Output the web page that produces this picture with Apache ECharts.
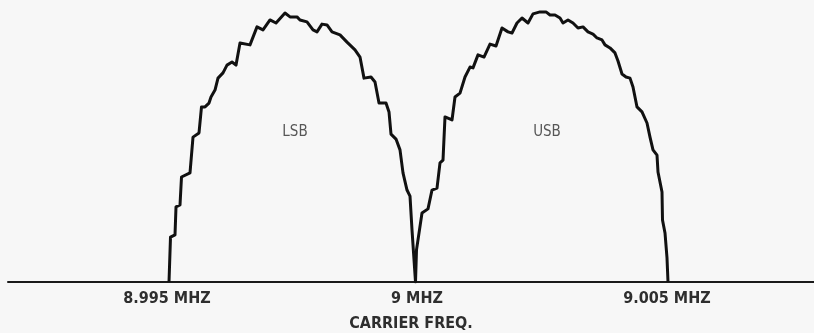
<!DOCTYPE html>
<html>
<head>
<meta charset="utf-8">
<script src="https://cdn.jsdelivr.net/npm/echarts@6/dist/echarts.min.js"></script>
<style>
  html, body { margin: 0; padding: 0; background: #f7f7f7; }
  #chart { width: 814px; height: 333px; }
</style>
</head>
<body>
<div id="chart"></div>
<script>
// Frequency offset from the 9 MHz carrier, in kHz
const lsbFreq = [-4.96, -4.93, -4.84, -4.82, -4.74, -4.71, -4.54, -4.48, -4.36, -4.31, -4.24, -4.16, -4.12, -4.04, -3.98, -3.88, -3.80, -3.70, -3.62, -3.54, -3.50, -3.34, -3.20, -3.08, -2.94, -2.82, -2.64, -2.54, -2.40, -2.34, -2.20, -2.08, -2.00, -1.90, -1.80, -1.70, -1.54, -1.40, -1.24, -1.14, -1.06, -0.92, -0.84, -0.76, -0.62, -0.56, -0.52, -0.42, -0.34, -0.28, -0.20, -0.14, -0.10, -0.03];
// Relative amplitude of the lower sideband
const lsbLevel = [0, 16.2, 17.0, 27.1, 27.8, 37.9, 39.4, 52.3, 53.8, 63.2, 63.2, 64.6, 66.8, 69.3, 73.6, 75.5, 78.3, 79.4, 78.3, 86.3, 86.6, 85.6, 92.1, 91.0, 94.6, 93.5, 97.1, 95.7, 95.7, 94.6, 93.9, 91.0, 90.3, 93.1, 92.8, 90.3, 89.2, 86.6, 83.8, 81.2, 73.6, 74.0, 72.2, 64.6, 64.6, 61.4, 53.4, 51.6, 47.7, 39.4, 33.2, 31.0, 18.8, 0];

const usbFreq = [-0.01, 0.10, 0.22, 0.30, 0.40, 0.46, 0.52, 0.56, 0.70, 0.76, 0.86, 0.96, 1.06, 1.12, 1.22, 1.34, 1.46, 1.58, 1.70, 1.82, 1.90, 2.00, 2.10, 2.22, 2.32, 2.46, 2.58, 2.66, 2.76, 2.86, 2.92, 3.02, 3.12, 3.22, 3.32, 3.42, 3.52, 3.60, 3.70, 3.76, 3.86, 3.96, 4.02, 4.10, 4.18, 4.26, 4.32, 4.40, 4.50, 4.60, 4.66, 4.72, 4.80, 4.82, 4.90, 4.91, 4.96, 5.00, 5.02];
// Relative amplitude of the upper sideband
const usbLevel = [11.6, 24.9, 26.4, 33.2, 33.9, 43.0, 44.0, 59.6, 58.5, 66.8, 68.2, 74.0, 77.6, 77.3, 82.0, 81.2, 85.9, 85.2, 91.7, 90.3, 89.9, 93.5, 95.3, 93.5, 96.8, 97.5, 97.5, 96.4, 96.4, 95.3, 93.5, 94.6, 93.5, 91.7, 92.1, 90.3, 89.5, 88.1, 87.4, 85.6, 84.5, 82.7, 79.8, 75.1, 74.0, 73.6, 70.4, 63.2, 61.4, 57.4, 52.3, 47.7, 45.8, 39.7, 32.5, 22.4, 17.7, 8.7, 0];

// Axis tick positions and their captions
const tickValues = [-5, 0, 5];
const tickLabels = ['8.995 MHZ', '9 MHZ', '9.005 MHZ'];
const axisTitle = 'CARRIER FREQ.';

// Sideband captions placed inside each lobe
const bandNames = ['LSB', 'USB'];
const bandFreq = [-2.44, 2.6];
const bandLevel = [54, 54];

const spectrum = lsbFreq.map((f, i) => [f, lsbLevel[i]])
  .concat(usbFreq.map((f, i) => [f, usbLevel[i]]));

const textFont = '"DejaVu Sans Condensed", "DejaVu Sans", sans-serif';
const chart = echarts.init(document.getElementById('chart'), null, { renderer: 'canvas' });

chart.setOption({
  backgroundColor: '#f7f7f7',
  animation: false,
  grid: { left: 8, right: 0, top: 5, bottom: 51, containLabel: false, outerBoundsMode: 'none' },
  xAxis: {
    type: 'value',
    min: -8.18,
    max: 7.94,
    name: axisTitle,
    nameLocation: 'middle',
    nameGap: 34,
    nameTextStyle: { color: '#2e2e2e', fontSize: 16, fontWeight: 'bold', fontFamily: textFont },
    axisLine: { show: true, onZero: false, lineStyle: { color: '#1a1a1a', width: 2 } },
    axisTick: { show: false },
    splitLine: { show: false },
    axisLabel: {
      customValues: tickValues,
      margin: 9,
      color: '#2e2e2e',
      fontSize: 16,
      fontWeight: 'bold',
      fontFamily: textFont,
      formatter: (v) => {
        const i = tickValues.findIndex(t => Math.abs(t - v) < 1e-9);
        return i >= 0 ? tickLabels[i] : '';
      }
    }
  },
  yAxis: {
    type: 'value',
    min: 0,
    max: 100,
    show: false
  },
  series: [
    {
      type: 'line',
      data: spectrum,
      symbol: 'none',
      lineStyle: { color: '#111', width: 3, join: 'round' },
      z: 3
    },
    {
      type: 'scatter',
      symbolSize: 0,
      data: bandNames.map((n, i) => ({ value: [bandFreq[i], bandLevel[i]], name: n })),
      label: {
        show: true,
        position: 'inside',
        formatter: (p) => p.name,
        color: '#2e2e2e',
        fontSize: 15,
        fontFamily: textFont
      }
    }
  ]
});
</script>
</body>
</html>
